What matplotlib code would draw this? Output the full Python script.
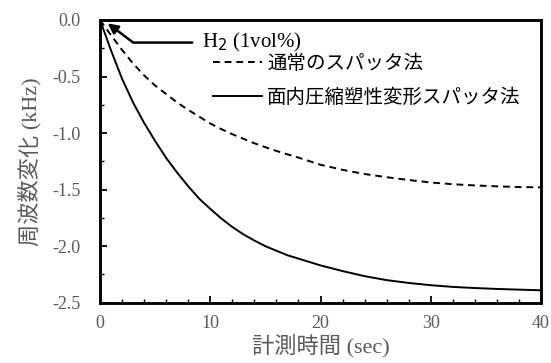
import matplotlib
matplotlib.use("Agg")
import matplotlib.pyplot as plt
from matplotlib.patches import Rectangle

# values (time in sec, frequency change in kHz)
t_normal = [0, 1, 2, 3, 4, 5, 6, 7, 8, 9, 10, 11, 12, 13, 14, 15, 16, 17, 18,
            20, 22, 24, 26, 28, 30, 32, 34, 36, 38, 40]
f_normal = [0, -0.135, -0.265, -0.385, -0.49, -0.58, -0.655, -0.73, -0.795, -0.855, -0.915,
            -0.965, -1.01, -1.05, -1.09, -1.125, -1.158, -1.188, -1.217,
            -1.28, -1.325, -1.362, -1.39, -1.415, -1.437, -1.452, -1.463, -1.471, -1.477, -1.48]

t_press = [0, 1, 2, 3, 4, 5, 6, 7, 8, 9, 10, 11, 12, 13, 14, 15, 16, 17, 18,
           20, 22, 24, 26, 28, 30, 32, 34, 36, 38, 40]
f_press = [0, -0.27, -0.52, -0.73, -0.91, -1.07, -1.22, -1.35, -1.47, -1.58, -1.67,
           -1.755, -1.83, -1.895, -1.95, -2.0, -2.04, -2.08, -2.11,
           -2.17, -2.22, -2.265, -2.3, -2.325, -2.345, -2.36, -2.37, -2.378, -2.384, -2.39]

label_normal = "通常のスパッタ法"
label_press = "面内圧縮塑性変形スパッタ法"
xticks = [0, 10, 20, 30, 40]
yticks = [0.0, -0.5, -1.0, -1.5, -2.0, -2.5]

fonts = ["Liberation Serif", "Noto Sans CJK JP"]
plt.rcParams["font.family"] = fonts
gray = "#595959"

fig = plt.figure(figsize=(5.51, 3.63), dpi=100)
ax = fig.add_axes([0.1815, 0.166, 0.8004, 0.779])

ax.plot(t_normal, f_normal, color="black", lw=1.4, ls=(0, (3.5, 2.5)), label=label_normal)
ax.plot(t_press, f_press, color="black", lw=1.4, label=label_press)

ax.set_xlim(0, 40)
ax.set_ylim(-2.5, 0.0)
ax.set_xticks(xticks)
ax.set_yticks(yticks)
ax.set_yticklabels([f"{v:.1f}" for v in yticks])
ax.set_xticks(range(0, 41, 2), minor=True)
ax.set_yticks([-0.25 * i for i in range(11)], minor=True)
ax.tick_params(which="major", direction="in", length=5, width=1.3, labelsize=13,
               labelcolor=gray, top=False, right=False)
ax.tick_params(which="minor", direction="in", length=3, width=1.0, top=False, right=False)
ax.tick_params(axis="x", pad=9)
ax.tick_params(axis="y", pad=14)
for s in ["left", "bottom", "top", "right"]:
    ax.spines[s].set_linewidth(1.8)
    ax.spines[s].set_color("black")

# frame around the plot area
ax.add_patch(Rectangle((0, 0), 1, 1, transform=ax.transAxes, fill=False,
                       edgecolor="black", lw=1.8, clip_on=False, zorder=6))

ax.set_xlabel("計測時間 (sec)", fontsize=16, color=gray, labelpad=1)
ax.set_ylabel("周波数変化 (kHz)", fontsize=16, color=gray, labelpad=8)

ax.legend(loc="upper left", bbox_to_anchor=(0.256, 0.879), frameon=False, fontsize=14,
          handlelength=2.5, handletextpad=0.3, labelspacing=0.8,
          borderpad=0, borderaxespad=0)

ax.annotate("H$_2$ (1vol%)", xy=(0.7, -0.03), xytext=(9.25, -0.20), fontsize=15,
            va="center", ha="left",
            arrowprops=dict(arrowstyle="-|>", color="black", lw=1.8, mutation_scale=15,
                            shrinkA=5, shrinkB=0,
                            connectionstyle="angle,angleA=0,angleB=-37,rad=0"))

fig.savefig("out.png", dpi=100)
